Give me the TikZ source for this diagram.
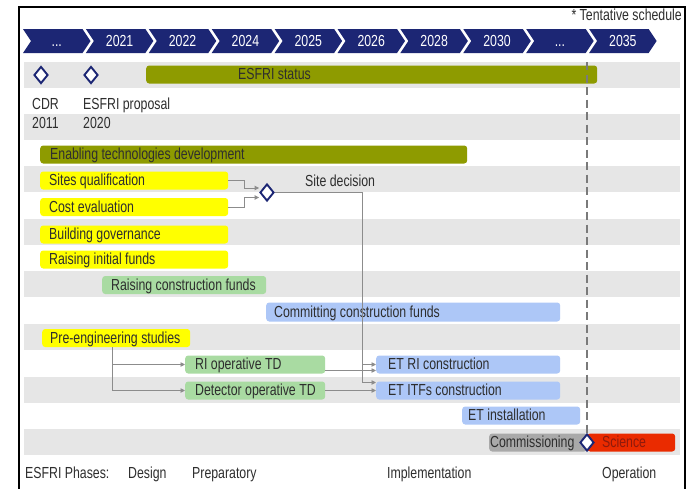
\documentclass[tikz,border=0pt]{standalone}
\usepackage{fontspec}
\setmainfont{Liberation Sans}[FakeStretch=0.77]
\usetikzlibrary{shapes.geometric,arrows.meta,calc}
\definecolor{navy}{HTML}{1C2674}
\definecolor{olive}{HTML}{8E9B00}
\definecolor{yel}{HTML}{FFFF00}
\definecolor{lgreen}{HTML}{A9DBA2}
\definecolor{lblue}{HTML}{ADC7F7}
\definecolor{bandgray}{HTML}{E6E6E6}
\definecolor{cgray}{HTML}{A9A9A9}
\definecolor{sred}{HTML}{EA2B00}
\definecolor{sredtxt}{HTML}{8E1A0C}
\definecolor{txt}{HTML}{2E2E2E}
\definecolor{conngray}{HTML}{8C8C8C}
\definecolor{dashgray}{HTML}{7A7A7A}
\newcommand\bartxt[3]{\makebox[#1pt][l]{\hspace*{#2pt}#3}}
\begin{document}
\begin{tikzpicture}[x=1pt,y=-1pt,
  lbl/.style={font=\fontsize{16}{19}\selectfont, text=txt, inner sep=0pt, text height=11pt, text depth=1pt},
  bar/.style={lbl, rounded corners=3pt, anchor=west, minimum height=18pt, inner sep=0pt},
  conn/.style={draw=conngray, line width=0.9pt, -{Triangle[length=4.5pt,width=4.5pt]}},
  ms/.style={diamond, draw=navy, fill=white, line width=1.9pt, minimum width=14pt, minimum height=17pt, inner sep=0pt},
]
\useasboundingbox (0,0) rectangle (691,488);
\fill[white] (0,0) rectangle (691,488);
% row bands
\foreach \yy in {62,114,166,219,271,324,377,429}
  \fill[bandgray] (24,\yy) rectangle (680,\yy+26);
% frame
\draw[line width=2.5pt] (19,495) -- (19,7) -- (685,7) -- (685,495);
% timeline chevrons
\def\dd{...}
\foreach \t [count=\i from 0] in {\dd,2021,2022,2024,2025,2026,2028,2030,\dd,2035}{
  \pgfmathsetmacro\xx{23+62.9*\i}
  \fill[navy] (\xx,29) -- ++(59.5,0) -- ++(8,12) -- ++(-8,12) -- ++(-59.5,0) -- ++(8,-12) -- cycle;
  \node[lbl, text=white] (ch\i) at (\xx+33.75,41) {\t};
}
\node[lbl, anchor=east] (tent) at (682,15) {* Tentative schedule};
% texts
\node[lbl, anchor=west] (cdr) at (32,104) {CDR};
\node[lbl, anchor=west] (y2011) at (32,123) {2011};
\node[lbl, anchor=west] (prop) at (83,104) {ESFRI proposal};
\node[lbl, anchor=west] (y2020) at (83,123) {2020};
\node[lbl, anchor=west] (sdl) at (305,181) {Site decision};
% bars
\node[bar, fill=olive] (status) at (146,74.5) {\bartxt{451}{92}{ESFRI status}};
\node[bar, fill=olive] (enab) at (40,154.5) {\bartxt{427}{10}{Enabling technologies development}};
\node[bar, fill=yel] (sites) at (40,180.5) {\bartxt{188}{9}{Sites qualification}};
\node[bar, fill=yel] (cost) at (40,207) {\bartxt{188}{9}{Cost evaluation}};
\node[bar, fill=yel] (gov) at (40,234.5) {\bartxt{188}{9}{Building governance}};
\node[bar, fill=yel] (initf) at (40,259.5) {\bartxt{188}{9}{Raising initial funds}};
\node[bar, fill=lgreen] (consf) at (102,285) {\bartxt{164}{9}{Raising construction funds}};
\node[bar, fill=lblue, minimum height=19pt] (commf) at (266,312) {\bartxt{294}{8}{Committing construction funds}};
\node[bar, fill=yel] (preeng) at (42,338) {\bartxt{148}{8}{Pre-engineering studies}};
\node[bar, fill=lgreen] (riop) at (185,364.5) {\bartxt{140}{10}{RI operative TD}};
\node[bar, fill=lgreen] (detop) at (185,390.5) {\bartxt{140}{10}{Detector operative TD}};
\node[bar, fill=lblue] (etri) at (376,364.5) {\bartxt{184}{12}{ET RI construction}};
\node[bar, fill=lblue] (etitf) at (376,390.5) {\bartxt{184}{12}{ET ITFs construction}};
\node[bar, fill=lblue] (etinst) at (462,415.5) {\bartxt{118}{6}{ET installation}};
\node[bar, fill=cgray] (comm) at (489,442.5) {\bartxt{98}{1}{Commissioning}};
\node[bar, fill=sred, text=sredtxt] (sci) at (587,442.5) {\bartxt{88}{15}{Science}};
% milestones
\node[ms] (cdrm) at (41,75) {};
\node[ms] (propm) at (91,75) {};
\node[ms] (sd) at (267,192.5) {};
\draw[dashgray, line width=1.4pt, dash pattern=on 8pt off 4.5pt] (587,62) -- (587,434);
\node[ms] (scim) at (587,442.5) {};
% connectors
\draw[conn] (sites.east) -- ++(16,0) |- ([yshift=4.5pt]sd.west);
\draw[conn] (cost.east) -- ++(16,0) |- ([yshift=-5pt]sd.west);
\draw[conn] (sd.east) -| ($(etitf.west)+(-14,-8)$) -- ([yshift=8pt]etitf.west);
\draw[conn] ($(etri.west)+(-14,0)$) -- (etri.west);
\draw[conn] ([yshift=-6pt]riop.east) -- ([yshift=-6pt]riop.east -| etri.west);
\draw[conn] (detop.east) -- (detop.east -| etitf.west);
\draw[conn] ([xshift=-4pt]preeng.south) |- (riop.west);
\draw[conn] ([xshift=-4pt]preeng.south) |- (detop.west);
% phases
\node[lbl, anchor=west] (ph) at (25,473) {ESFRI Phases:};
\node[lbl, anchor=west] (phd) at (128,473) {Design};
\node[lbl, anchor=west] (php) at (192,473) {Preparatory};
\node[lbl, anchor=west] (phi) at (387,473) {Implementation};
\node[lbl, anchor=west] (pho) at (602,473) {Operation};
\end{tikzpicture}
\end{document}
